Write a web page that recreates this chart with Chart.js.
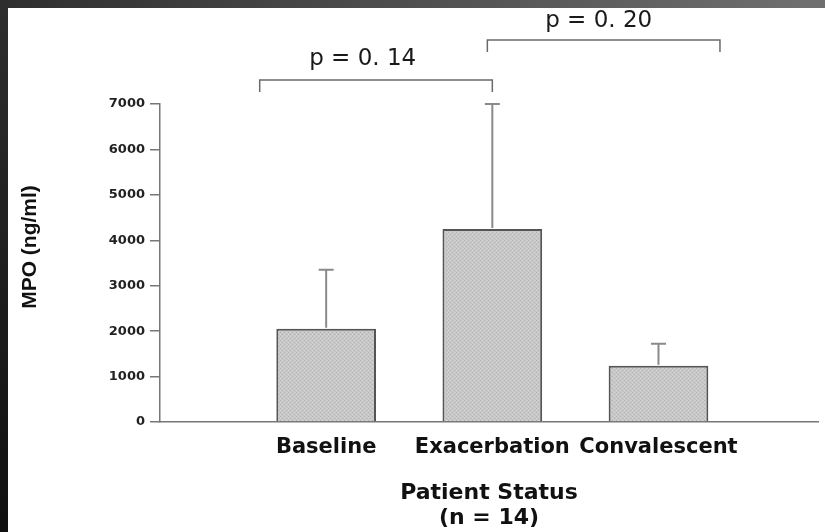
<!DOCTYPE html>
<html>
<head>
<meta charset="utf-8">
<title>MPO by patient status</title>
<script src="https://cdn.jsdelivr.net/npm/chart.js@4.4.1/dist/chart.umd.min.js"></script>
<style>
    html, body { margin: 0; padding: 0; background: #fff; }
    #wrap { position: relative; width: 825px; height: 532px; overflow: hidden; }
    #chart { position: absolute; left: 0; top: 0; }
    .frame-top { position: absolute; left: 0; top: 0; width: 825px; height: 8px;
        background: linear-gradient(to right, #2e2e2e, #707070); }
    .frame-left { position: absolute; left: 0; top: 0; width: 8px; height: 532px;
        background: linear-gradient(to bottom, #2e2e2e, #101010); }
</style>
</head>
<body>
<div id="wrap">
    <canvas id="chart" width="825" height="532"></canvas>
    <div class="frame-top"></div>
    <div class="frame-left"></div>
</div>
<script>
// Data
const categories = ['Baseline', 'Exacerbation', 'Convalescent'];
const mpoMean = [2050, 4250, 1240];
const mpoSD = [1300, 2750, 480];
const yTicks = [0, 1000, 2000, 3000, 4000, 5000, 6000, 7000];

// significance brackets (x in category units, y in ng/ml)
const bracketLabels = ['p = 0. 14', 'p = 0. 20'];
const bracketFrom = [0.6, 1.97];
const bracketTo = [2.0, 3.37];
const bracketTop = [7530, 8410];
const bracketEnd = [7265, 8145];
const labelX = [1.22, 2.64];
const labelY = [7990, 8830];

// stippled grey fill like the printed bars
function makeStipple() {
    const c = document.createElement('canvas');
    c.width = 4; c.height = 4;
    const g = c.getContext('2d');
    g.fillStyle = '#c8c8c8';
    g.fillRect(0, 0, 4, 4);
    g.fillStyle = '#b0b0b0';
    g.fillRect(0, 0, 1, 1);
    g.fillRect(2, 2, 1, 1);
    g.fillStyle = '#d4d4d4';
    g.fillRect(2, 0, 1, 1);
    g.fillRect(0, 2, 1, 1);
    return g.createPattern(c, 'repeat');
}

const errorBars = {
    id: 'errorBars',
    afterDatasetsDraw(chart) {
        const ctx = chart.ctx;
        const y = chart.scales.y;
        const meta = chart.getDatasetMeta(0);
        ctx.save();
        ctx.strokeStyle = '#8a8a8a';
        ctx.lineWidth = 2;
        meta.data.forEach((bar, i) => {
            const top = y.getPixelForValue(mpoMean[i] + mpoSD[i]);
            ctx.beginPath();
            ctx.moveTo(bar.x, bar.y - 1);
            ctx.lineTo(bar.x, top);
            ctx.moveTo(bar.x - 7.5, top);
            ctx.lineTo(bar.x + 7.5, top);
            ctx.stroke();
        });
        ctx.restore();
    }
};

const brackets = {
    id: 'brackets',
    afterDraw(chart) {
        const ctx = chart.ctx;
        const x = chart.scales.x;
        const y = chart.scales.y;
        ctx.save();
        ctx.strokeStyle = '#6a6a6a';
        ctx.lineWidth = 1.5;
        bracketLabels.forEach((label, i) => {
            const x1 = x.getPixelForValue(bracketFrom[i]);
            const x2 = x.getPixelForValue(bracketTo[i]);
            const yt = y.getPixelForValue(bracketTop[i]);
            const ye = y.getPixelForValue(bracketEnd[i]);
            ctx.beginPath();
            ctx.moveTo(x1, ye);
            ctx.lineTo(x1, yt);
            ctx.lineTo(x2, yt);
            ctx.lineTo(x2, ye);
            ctx.stroke();

            ctx.fillStyle = '#1a1a1a';
            ctx.font = '23px "DejaVu Sans"';
            ctx.textAlign = 'center';
            ctx.textBaseline = 'middle';
            ctx.fillText(label, x.getPixelForValue(labelX[i]), y.getPixelForValue(labelY[i]));
        });

        // y axis title
        const area = chart.chartArea;
        ctx.translate(30, (area.top + area.bottom) / 2 - 16);
        ctx.rotate(-Math.PI / 2);
        ctx.fillStyle = '#111';
        ctx.font = 'bold 21px "Liberation Sans"';
        ctx.fillText('MPO (ng/ml)', 0, 0);
        ctx.restore();
    }
};

const ctx = document.getElementById('chart').getContext('2d');

new Chart(ctx, {
    type: 'bar',
    data: {
        datasets: [{
            label: 'MPO',
            data: categories.map((c, i) => ({ x: i + 1, y: mpoMean[i] })),
            backgroundColor: makeStipple(),
            borderColor: '#555',
            borderWidth: 2,
            barPercentage: 0.6,
            categoryPercentage: 1
        }]
    },
    options: {
        responsive: false,
        animation: false,
        layout: { padding: { top: 104, right: 7, bottom: 0, left: 0 } },
        plugins: {
            legend: { display: false },
            tooltip: { enabled: false }
        },
        scales: {
            x: {
                type: 'linear',
                offset: false,
                min: 0,
                max: 3.96,
                afterBuildTicks: (scale) => {
                    scale.ticks = categories.map((c, i) => ({ value: i + 1 }));
                },
                afterFit: (scale) => { scale.height = 110; },
                grid: { display: false, drawTicks: false, offset: false },
                border: { display: true, color: '#777', width: 1.5 },
                ticks: {
                    padding: 13,
                    color: '#111',
                    font: { family: 'DejaVu Sans', size: 21, weight: 'bold' },
                    callback: (v) => categories[v - 1] || ''
                },
                title: {
                    display: true,
                    text: ['Patient Status', '(n = 14)'],
                    color: '#111',
                    font: { family: 'DejaVu Sans', size: 22, weight: 'bold', lineHeight: 1.1 },
                    padding: { top: 0, bottom: 2 }
                }
            },
            y: {
                min: 0,
                max: 7000,
                afterBuildTicks: (scale) => {
                    scale.ticks = yTicks.map(v => ({ value: v }));
                },
                afterFit: (scale) => { scale.width = 160; },
                grid: { drawOnChartArea: false, drawTicks: true, tickLength: 10, color: '#777', lineWidth: 1.5 },
                border: { display: true, color: '#777', width: 1.5 },
                ticks: {
                    padding: 5,
                    color: '#222',
                    font: { family: 'DejaVu Sans', size: 13, weight: 'bold' },
                    callback: (v) => String(v)
                }
            }
        }
    },
    plugins: [errorBars, brackets]
});
</script>
</body>
</html>
